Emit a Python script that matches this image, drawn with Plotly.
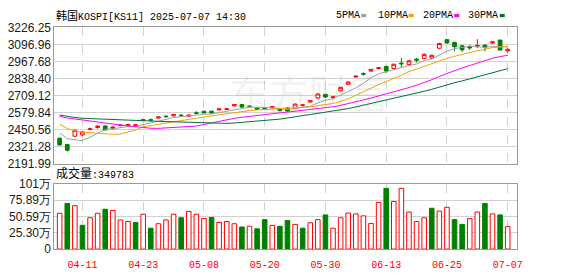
import plotly.graph_objects as go
import pandas as pd

W, H = 578, 276

# ---------------- data ----------------
dates = ["04-08", "04-09", "04-10", "04-11", "04-14", "04-15", "04-16", "04-17", "04-18", "04-21",
         "04-22", "04-23", "04-24", "04-25", "04-28", "04-29", "04-30", "05-02", "05-07", "05-08",
         "05-09", "05-12", "05-13", "05-14", "05-15", "05-16", "05-19", "05-20", "05-21", "05-22",
         "05-23", "05-26", "05-27", "05-28", "05-29", "05-30", "06-02", "06-04", "06-05", "06-09",
         "06-10", "06-11", "06-12", "06-13", "06-16", "06-17", "06-18", "06-19", "06-20", "06-23",
         "06-24", "06-25", "06-26", "06-27", "06-30", "07-01", "07-02", "07-03", "07-04", "07-07"]

opens = [2385, 2337, 2400, 2410, 2452, 2466, 2478, 2458, 2480, 2483,
         2483, 2520, 2525, 2538, 2552, 2555, 2560, 2552, 2578, 2590,
         2590, 2600, 2603, 2630, 2640, 2628, 2615, 2612, 2615, 2610,
         2615, 2610, 2635, 2660, 2690, 2718, 2695, 2745, 2795, 2850,
         2875, 2895, 2915, 2930, 2915, 2955, 2945, 2985, 2990, 2994,
         3068, 3133, 3113, 3087, 3080, 3080, 3092, 3108, 3130, 3048]

highs = [2390, 2344, 2450, 2440, 2464, 2482, 2480, 2475, 2490, 2495,
         2491, 2530, 2534, 2550, 2560, 2570, 2568, 2565, 2590, 2592,
         2593, 2612, 2615, 2645, 2645, 2632, 2617, 2618, 2630, 2615,
         2617, 2648, 2645, 2675, 2725, 2722, 2705, 2775, 2815, 2862,
         2885, 2912, 2926, 2932, 2950, 2995, 2980, 2995, 3028, 3020,
         3110, 3140, 3115, 3090, 3090, 3137, 3095, 3122, 3133, 3068]

lows = [2330, 2284, 2395, 2400, 2444, 2458, 2445, 2450, 2476, 2478,
        2470, 2515, 2512, 2535, 2540, 2548, 2548, 2550, 2565, 2572,
        2570, 2595, 2598, 2625, 2618, 2620, 2600, 2598, 2610, 2590,
        2585, 2605, 2625, 2655, 2685, 2690, 2680, 2740, 2790, 2845,
        2860, 2890, 2905, 2880, 2910, 2925, 2940, 2960, 2985, 2985,
        3060, 3100, 3044, 3040, 3055, 3070, 3044, 3100, 3052, 3035]

closes = [2334.23, 2293.70, 2445.06, 2432.72, 2455.89, 2477.41, 2447.27, 2470.00, 2483.42, 2488.42,
          2486.64, 2525.56, 2522.33, 2546.30, 2548.86, 2565.42, 2556.61, 2559.79, 2573.80, 2577.27,
          2577.25, 2607.33, 2608.42, 2640.57, 2621.04, 2626.87, 2603.42, 2603.23, 2625.58, 2593.67,
          2592.09, 2644.40, 2637.22, 2670.97, 2720.64, 2697.67, 2698.97, 2770.84, 2812.05, 2855.77,
          2871.85, 2907.04, 2920.03, 2894.62, 2946.66, 2950.30, 2972.29, 2977.74, 3021.84, 3014.47,
          3103.64, 3108.62, 3079.56, 3055.94, 3071.70, 3089.65, 3075.06, 3116.27, 3054.28, 3059.47]

# closes before the visible window (needed for the moving averages)
prior_closes = [2642, 2641, 2621, 2533, 2532, 2558, 2576, 2563, 2570, 2537,
                2574, 2582, 2566, 2610, 2612, 2628, 2637, 2643, 2632, 2630,
                2643, 2607, 2557, 2481, 2521, 2506, 2487, 2465, 2328.20]

# volume in 万
volumes = [55.7, 70.9, 67.5, 36.9, 48.7, 55.7, 62.0, 60.1, 45.3, 42.8,
           41.4, 54.2, 32.5, 39.4, 45.3, 54.2, 48.7, 58.6, 54.2, 47.7,
           49.2, 41.4, 42.8, 39.4, 34.4, 35.5, 31.5, 45.8, 36.9, 35.5,
           44.3, 38.4, 32.5, 40.9, 45.8, 53.2, 32.5, 48.7, 56.1, 54.7,
           51.7, 39.9, 72.4, 94.5, 73.9, 94.5, 57.6, 42.8, 48.7, 63.5,
           59.1, 65.0, 45.8, 38.4, 47.3, 57.6, 70.9, 54.7, 53.2, 34.98]

price_ticks = [2191.99, 2321.28, 2450.56, 2579.84, 2709.12, 2838.40, 2967.68, 3096.96, 3226.25]
price_tick_text = ["2191.99", "2321.28", "2450.56", "2579.84", "2709.12", "2838.40", "2967.68", "3096.96", "3226.25"]
vol_ticks = [0, 25.30, 50.59, 75.89, 101.18]
vol_tick_text = ["0", "25.30万", "50.59万", "75.89万", "101万"]
x_labels = ["04-11", "04-23", "05-08", "05-20", "05-30", "06-13", "06-25", "07-07"]

ma_periods = [5, 10, 20, 30]
ma_names = ["5PMA", "10PMA", "20PMA", "30PMA"]
ma_colors = ["#a0a0a0", "#f5a300", "#ff00ff", "#00703a"]

title_cjk, title_rest = "韩国", "KOSPI[KS11] 2025-07-07 14:30"
vol_cjk, vol_rest = "成交量", ":349783"

# ---------------- derived ----------------
RED = "#ff0000"
GREEN = "#008000"
xs = list(range(len(dates)))
tick_pos = [dates.index(d) for d in x_labels]
all_closes = pd.Series(prior_closes + closes)
n_prior = len(prior_closes)
prev_close = [prior_closes[-1]] + closes[:-1]
vol_up = [c >= p for c, p in zip(closes, prev_close)]

def px(x):
    return x / W

def py(y):
    return 1 - y / H

fig = go.Figure()

# moving averages
for per, name, col in zip(ma_periods, ma_names, ma_colors):
    ma = all_closes.rolling(per).mean().iloc[n_prior:].tolist()
    fig.add_trace(go.Scatter(x=xs, y=ma, mode="lines", name=name,
                             line=dict(color=col, width=1), xaxis="x", yaxis="y",
                             hoverinfo="skip"))

fig.add_trace(go.Candlestick(
    x=xs, open=opens, high=highs, low=lows, close=closes,
    increasing=dict(line=dict(color=RED, width=1), fillcolor="white"),
    decreasing=dict(line=dict(color=GREEN, width=1), fillcolor=GREEN),
    whiskerwidth=0, xaxis="x", yaxis="y", name="K"))

fig.add_trace(go.Bar(
    x=xs, y=volumes, width=0.6,
    marker=dict(color=["white" if u else GREEN for u in vol_up],
                line=dict(color=[RED if u else GREEN for u in vol_up], width=1)),
    xaxis="x2", yaxis="y2", name="VOL"))

xdom = [px(55), px(522)]
xrange = [-0.69, len(dates) - 1 + 1.17]
GRID = "#d2d2d2"
FRAME = "#9a9a9a"
TICKFONT = dict(family="Liberation Sans, Arial, sans-serif", size=12, color="#1a1a1a")
MONO = "Liberation Mono, Noto Sans CJK SC, monospace"

common_x = dict(domain=xdom, range=xrange, tickvals=tick_pos, ticktext=x_labels,
                showgrid=True, gridcolor=GRID, griddash="dash", gridwidth=1,
                showline=True, mirror=True, linecolor=FRAME, linewidth=1,
                zeroline=False, fixedrange=True)

fig.update_layout(
    width=W, height=H, margin=dict(l=0, r=0, t=0, b=0),
    paper_bgcolor="white", plot_bgcolor="white", showlegend=False,
    xaxis=dict(**common_x, anchor="y", showticklabels=False, ticks="",
               rangeslider=dict(visible=False)),
    xaxis2=dict(**common_x, anchor="y2", showticklabels=True,
                ticks="outside", ticklen=6, tickcolor="rgba(0,0,0,0)",
                tickfont=dict(family=MONO, size=10, color=RED)),
    yaxis=dict(domain=[py(165), py(21.5)], range=[price_ticks[0], price_ticks[-1]],
               tickvals=price_ticks, ticktext=price_tick_text, tickfont=TICKFONT,
               showgrid=True, gridcolor=GRID, showline=True, mirror=True,
               linecolor=FRAME, zeroline=False, ticks="", anchor="x"),
    yaxis2=dict(domain=[py(255), py(186.5)], range=[vol_ticks[0], vol_ticks[-1]],
                tickvals=vol_ticks, ticktext=vol_tick_text, tickfont=TICKFONT,
                showgrid=True, gridcolor=GRID, showline=True, mirror=True,
                linecolor=FRAME, zeroline=False, ticks="", anchor="x2"),
)

def mixed(cjk, rest, cjk_size):
    return f'<span style="font-size:{cjk_size}px">{cjk}</span>{rest}'

annotations = [
    dict(text="东方财富", xref="paper", yref="paper", x=px(312), y=py(90),
         xanchor="center", yanchor="middle", showarrow=False,
         font=dict(family="Noto Sans CJK SC", size=40, color="rgba(120,120,120,0.11)")),
    dict(text=mixed(title_cjk, title_rest, 11), xref="paper", yref="paper", x=px(55), y=py(9),
         xanchor="left", yanchor="middle", showarrow=False,
         font=dict(family=MONO, size=10, color="#000000")),
    dict(text=mixed(vol_cjk, vol_rest, 12), xref="paper", yref="paper", x=px(55), y=py(176),
         xanchor="left", yanchor="middle", showarrow=False,
         font=dict(family=MONO, size=10, color="#000000")),
]
legend_x = [337, 380, 425, 471]
square_x = [365, 413, 459, 505]
shapes = []
for name, col, lx, sx in zip(ma_names, ma_colors, legend_x, square_x):
    annotations.append(dict(text=name, xref="paper", yref="paper", x=px(lx), y=py(9),
                            xanchor="left", yanchor="middle", showarrow=False,
                            font=dict(family=MONO, size=10, color="#000000")))
    shapes.append(dict(type="rect", xref="paper", yref="paper",
                       x0=px(sx), x1=px(sx + 5), y0=py(10.7), y1=py(7.3),
                       fillcolor=col, line=dict(width=0)))
fig.update_layout(annotations=annotations, shapes=shapes)

fig.write_html("out.html")
